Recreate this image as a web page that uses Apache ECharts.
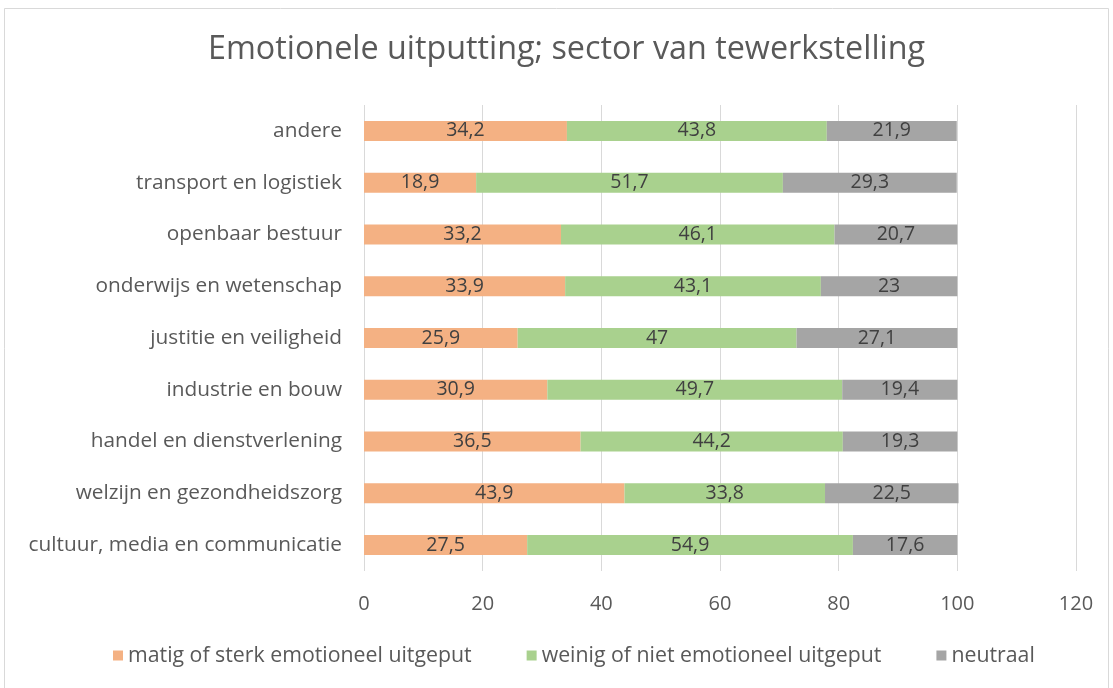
<!DOCTYPE html>
<html lang="nl">
<head>
  <meta charset="UTF-8">
  <script src="https://cdn.jsdelivr.net/npm/echarts@6/dist/echarts.min.js"></script>
  <title>Emotionele uitputting</title>
  <style>
    html, body { margin: 0; background: #fff; }
    #main { width: 1113px; height: 688px; }
  </style>
</head>
<body>
  <div id="main"></div>
  <script type="text/javascript">
    // data (bottom to top, as Excel draws it)
    var categories = [
      'cultuur, media en communicatie',
      'welzijn en gezondheidszorg',
      'handel en dienstverlening',
      'industrie en bouw',
      'justitie en veiligheid',
      'onderwijs en wetenschap',
      'openbaar bestuur',
      'transport en logistiek',
      'andere'
    ];
    var matig = [27.5, 43.9, 36.5, 30.9, 25.9, 33.9, 33.2, 18.9, 34.2];
    var weinig = [54.9, 33.8, 44.2, 49.7, 47, 43.1, 46.1, 51.7, 43.8];
    var neutraal = [17.6, 22.5, 19.3, 19.4, 27.1, 23, 20.7, 29.3, 21.9];
    var seriesNames = ['matig of sterk emotioneel uitgeput', 'weinig of niet emotioneel uitgeput', 'neutraal'];
    var colors = ['#F4B183', '#A9D18E', '#A5A5A5'];

    var font = '"Open Sans", sans-serif';
    var chart = echarts.init(document.getElementById('main'), null, { renderer: 'canvas' });

    function barSeries(name, data, color) {
      return {
        name: name,
        type: 'bar',
        stack: 'total',
        data: data,
        barWidth: 20,
        itemStyle: { color: color },
        label: {
          show: true,
          position: 'inside',
          color: '#404040',
          fontFamily: font,
          fontSize: 19.5,
          formatter: function (p) { return String(p.value).replace('.', ','); }
        }
      };
    }

    var option = {
      animation: false,
      backgroundColor: '#fff',
      color: colors,
      graphic: [{
        type: 'rect',
        shape: { x: 4.5, y: 8.5, width: 1104, height: 690 },
        style: { fill: 'none', stroke: '#d9d9d9', lineWidth: 1 },
        silent: true
      }],
      title: {
        text: 'Emotionele uitputting; sector van tewerkstelling',
        left: 203,
        top: 29,
        textStyle: { color: '#595959', fontSize: 32.3, fontWeight: 'normal', fontFamily: font }
      },
      legend: {
        bottom: 17,
        left: 108,
        itemWidth: 10,
        itemHeight: 10,
        itemGap: 55,
        icon: 'rect',
        textStyle: { color: '#595959', fontSize: 21.3, fontFamily: font }
      },
      grid: { left: 364, right: 37, top: 105, bottom: 117, containLabel: false },
      xAxis: {
        type: 'value',
        min: 0,
        max: 120,
        interval: 20,
        axisLine: { show: false },
        axisTick: { show: false },
        splitLine: { show: true, lineStyle: { color: '#d9d9d9', width: 1 } },
        axisLabel: { color: '#595959', fontSize: 20, fontFamily: font, margin: 23 }
      },
      yAxis: {
        type: 'category',
        data: categories,
        axisLine: { show: false },
        axisTick: { show: false },
        axisLabel: { color: '#595959', fontSize: 20.8, fontFamily: font, margin: 22 }
      },
      series: [
        barSeries(seriesNames[0], matig, colors[0]),
        barSeries(seriesNames[1], weinig, colors[1]),
        barSeries(seriesNames[2], neutraal, colors[2])
      ]
    };

    chart.setOption(option);
    window.addEventListener('resize', chart.resize);
  </script>
</body>
</html>
